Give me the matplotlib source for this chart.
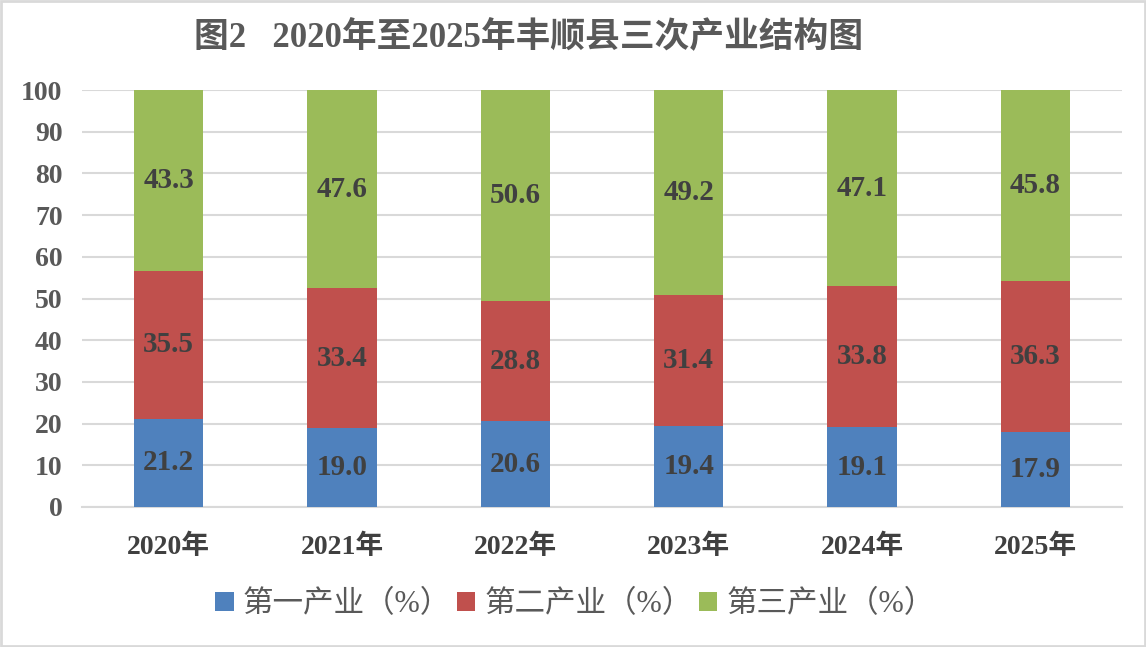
import matplotlib
matplotlib.use("Agg")
import matplotlib.pyplot as plt
from matplotlib.patches import Rectangle
import numpy as np

years = ["2020年", "2021年", "2022年", "2023年", "2024年", "2025年"]
primary = [21.2, 19.0, 20.6, 19.4, 19.1, 17.9]
secondary = [35.5, 33.4, 28.8, 31.4, 33.8, 36.3]
tertiary = [43.3, 47.6, 50.6, 49.2, 47.1, 45.8]
series_names = ["第一产业（%）", "第二产业（%）", "第三产业（%）"]
title = "图2   2020年至2025年丰顺县三次产业结构图"
yticks = [0, 10, 20, 30, 40, 50, 60, 70, 80, 90, 100]

colors = ["#4F81BD", "#C0504D", "#9BBB59"]
FAM = ["Liberation Serif", "Noto Sans CJK SC", "DejaVu Sans"]
plt.rcParams["font.family"] = FAM

fig = plt.figure(figsize=(11.46, 6.47), dpi=100)
ax = fig.add_axes([82/1146, 1-507/647, (1122-82)/1146, (507-90)/647])

x = np.arange(len(years))
bottoms = np.zeros(len(years))
handles = []
for vals, c, name in zip([primary, secondary, tertiary], colors, series_names):
    bars = ax.bar(x, vals, width=0.4, bottom=bottoms, color=c, label=name, zorder=3)
    handles.append(bars)
    for xi, b, v in zip(x, bottoms, vals):
        ax.text(xi, b + v/2, f"{v:.1f}", ha="center", va="center",
                fontsize=21, fontweight="bold", color="#404040", zorder=4)
    bottoms = bottoms + np.array(vals)

ax.set_xlim(-0.5, len(years) - 0.5)
ax.set_ylim(0, 100)
ax.set_yticks(yticks)
ax.set_yticklabels([str(t) for t in yticks], fontsize=20, fontweight="bold", color="#595959")
ax.set_xticks(x)
ax.set_xticklabels(years, fontsize=20, fontweight="bold", color="#404040")
ax.tick_params(axis="y", length=0, pad=14)
ax.tick_params(axis="x", length=0, pad=20)
ax.yaxis.grid(True, color="#D9D9D9", linewidth=1.5, zorder=0)
for s in ["top", "right", "left"]:
    ax.spines[s].set_visible(False)
ax.spines["bottom"].set_color("#D9D9D9")
ax.spines["bottom"].set_linewidth(1.5)

fig.text(529/1146, 1-38/647, title, ha="center", va="center", fontsize=25,
         fontweight="bold", color="#595959")

leg = fig.legend(handles=handles, labels=series_names, loc="center",
                 bbox_to_anchor=(575/1146, 1-605/647), ncol=3, frameon=False,
                 fontsize=22, handlelength=0.6, handleheight=0.6, handletextpad=0.3,
                 columnspacing=0.2)
for t in leg.get_texts():
    t.set_color("#595959")

fig.patches.append(Rectangle((0.001, 0.001), 0.998, 0.997, transform=fig.transFigure,
                             fill=False, edgecolor="#D9D9D9", linewidth=2))

fig.savefig("out.png", dpi=100)
